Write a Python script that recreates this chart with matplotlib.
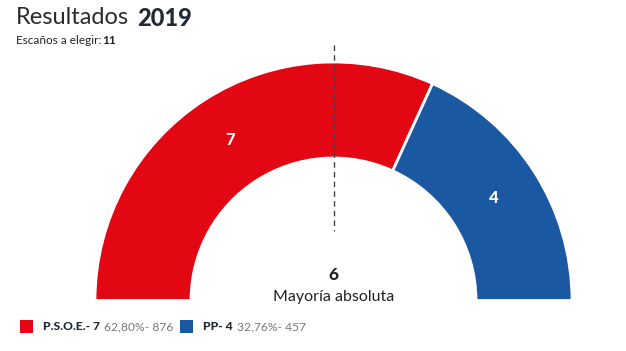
import matplotlib
matplotlib.use('Agg')
import matplotlib.pyplot as plt
from matplotlib.patches import Wedge, Rectangle
import numpy as np

# data
parties = ['P.S.O.E.', 'PP']
seats = [7, 4]
pct = ['62,80%', '32,76%']
votes = [876, 457]
colors = ['#E30613', '#1A59A2']
total_seats = 11
majority = 6
year = '2019'

W, H = 626, 351
plt.rcParams['font.family'] = ['Lato', 'DejaVu Sans']

fig = plt.figure(figsize=(W / 100, H / 100), dpi=100)
ax = fig.add_axes([0, 0, 1, 1])
ax.set_xlim(0, W)
ax.set_ylim(0, H)
ax.axis('off')
renderer = fig.canvas.get_renderer()

def py(y):
    # pixel row (from top) to data y
    return H - y

def text_after(t, gap, y, s, **kw):
    # put a new text right after an existing one
    bb = t.get_window_extent(renderer=renderer)
    return ax.text(bb.x1 + gap, y, s, ha='left', va='center', **kw)

# hemicycle geometry
cx, cy = 333.5, py(300.5)
r_out, r_in = 238.5, 142.5

start = 180.0
for i in range(len(parties)):
    span = 180.0 * seats[i] / total_seats
    end = start - span
    ax.add_patch(Wedge((cx, cy), r_out, end, start, width=r_out - r_in,
                       facecolor=colors[i], edgecolor='white', linewidth=2))
    mid = np.radians((start + end) / 2)
    rm = (r_out + r_in) / 2
    ax.text(cx + rm * np.cos(mid), cy + rm * np.sin(mid), str(seats[i]),
            color='white', fontsize=12, fontweight='black', ha='center', va='center')
    start = end

# majority line
ax.plot([cx, cx], [py(45), py(231)], color='#444444', linewidth=1, linestyle=(0, (4, 3)))
ax.text(cx, py(275), str(majority), fontsize=12.5, fontweight='black', color='#222222',
        ha='center', va='center')
ax.text(cx, py(297), 'Mayoría absoluta', fontsize=11.5, color='#222222',
        ha='center', va='center')

# header
t = ax.text(16, py(18), 'Resultados', fontsize=17, color='#2b2b2b',
            ha='left', va='center')
text_after(t, 8, py(18), year, fontsize=17, fontweight='black', color='#222a35')
t = ax.text(16, py(40), 'Escaños a elegir:', fontsize=8.5, color='#222222',
            ha='left', va='center')
text_after(t, 1, py(40), str(total_seats), fontsize=8.5, fontweight='bold', color='#222222')

# legend
leg_x = [20, 180]
for i in range(len(parties)):
    ax.add_patch(Rectangle((leg_x[i], py(333)), 13, 13, facecolor=colors[i], edgecolor='none'))
    t = ax.text(leg_x[i] + 23, py(327), f'{parties[i]}- {seats[i]}', fontsize=8.7,
                fontweight='black', color='#222a35', ha='left', va='center')
    text_after(t, 4, py(327), f'{pct[i]}- {votes[i]}', fontsize=8.7, color='#777777')

fig.savefig('out.png', dpi=100)
